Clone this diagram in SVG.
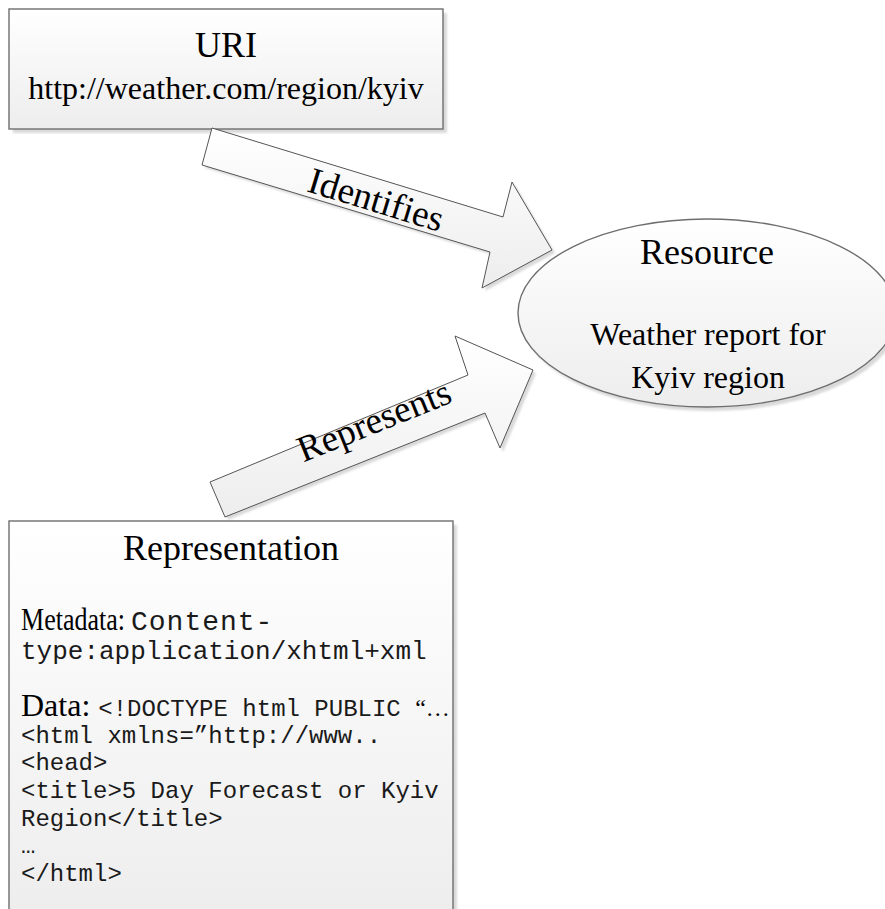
<svg xmlns="http://www.w3.org/2000/svg" width="885" height="909" viewBox="0 0 885 909">
  <style>
    .shape { fill: url(#fillGrad); stroke: #6e6e6e; stroke-width: 1.4; }
    .arrow { fill: url(#fillGrad); stroke: #555555; stroke-width: 1; }
    .shadow { fill: #d9d9d9; filter: url(#soft); }
    .serif { font-family: "Liberation Serif", "Times New Roman", serif; fill: #000000; }
    .mono { font-family: "Liberation Mono", "Courier New", monospace; fill: #1a1a1a; }
    .title { font-size: 36px; text-anchor: middle; }
    .body { font-size: 32px; }
    .center { text-anchor: middle; }
  </style>
  <defs>
    <linearGradient id="fillGrad" x1="0" y1="0" x2="0" y2="1">
      <stop offset="0" stop-color="#ffffff"/>
      <stop offset="1" stop-color="#ededed"/>
    </linearGradient>
    <filter id="soft" x="-10%" y="-10%" width="120%" height="120%">
      <feGaussianBlur stdDeviation="1"/>
    </filter>
  </defs>

  <rect width="885" height="909" fill="#ffffff"/>

  <!-- URI box -->
  <g id="uri">
    <rect class="shadow" x="13" y="13" width="434" height="120"/>
    <rect class="shape" x="9" y="9" width="434" height="120"/>
    <text class="serif title" x="226" y="57">URI</text>
    <text class="serif body center" x="226" y="99">http://weather.com/region/kyiv</text>
  </g>

  <!-- connectors: block arrows -->
  <g id="connectors">
    <g id="identifies">
      <polygon class="shadow" points="215,131 506,220 515,185 555,253 485,291 493,255 205,168"/>
      <polygon class="arrow" points="212,128 503,217 512,182 552,250 482,288 490,252 202,165"/>
      <text class="serif center" font-size="37" transform="translate(376,200) rotate(17)" y="12">Identifies</text>
    </g>
    <g id="represents">
      <polygon class="shadow" points="213,485 471,378 458,339 536,373 503,452 488,416 228,520"/>
      <polygon class="arrow" points="210,482 468,375 455,336 533,370 500,448 485,413 225,517"/>
      <text class="serif center" font-size="37" transform="translate(374,421) rotate(-22)" y="12">Represents</text>
    </g>
  </g>

  <!-- Resource ellipse -->
  <g id="resource">
    <ellipse class="shadow" cx="710" cy="317" rx="189" ry="94"/>
    <ellipse class="shape" cx="707" cy="313" rx="189" ry="94"/>
    <text class="serif title" x="707" y="264">Resource</text>
    <text class="serif body center" x="708" y="345">Weather report for</text>
    <text class="serif body center" x="708" y="388">Kyiv region</text>
  </g>

  <!-- Representation box -->
  <g id="representation">
    <rect class="shadow" x="13" y="525" width="444" height="400"/>
    <rect class="shape" x="9" y="521" width="444" height="400"/>
    <text class="serif title" x="231" y="560">Representation</text>
    <text class="serif" font-size="31" x="21" y="630" textLength="104" lengthAdjust="spacingAndGlyphs">Metadata:</text>
    <text class="mono" font-size="28" x="131" y="630" letter-spacing="1">Content-</text>
    <text class="mono" font-size="26" x="21" y="659">type:application/xhtml+xml</text>
    <text x="21" y="716"><tspan class="serif body">Data: </tspan><tspan class="mono" font-size="24">&lt;!DOCTYPE html PUBLIC </tspan><tspan class="serif" font-size="24">“…</tspan></text>
    <g class="mono" font-size="24">
      <text x="21" y="743">&lt;html xmlns=”http://www..</text>
      <text x="21" y="770">&lt;head&gt;</text>
      <text x="21" y="798">&lt;title&gt;5 Day Forecast or Kyiv</text>
      <text x="21" y="826">Region&lt;/title&gt;</text>
      <text x="21" y="853">…</text>
      <text x="21" y="881">&lt;/html&gt;</text>
    </g>
  </g>
</svg>
